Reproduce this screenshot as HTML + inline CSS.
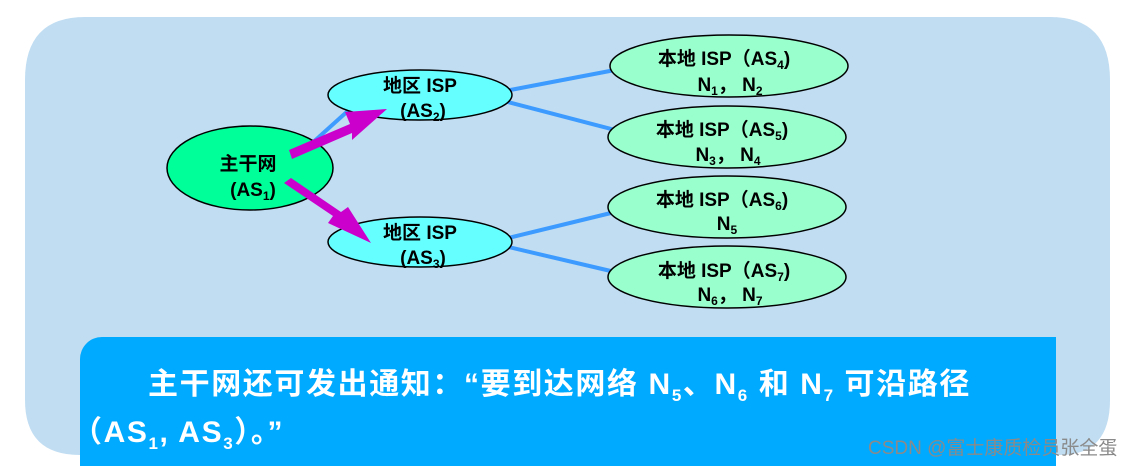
<!DOCTYPE html>
<html><head><meta charset="utf-8"><style>
body{margin:0;width:1136px;height:466px;background:#fff;overflow:hidden;position:relative;font-family:"Liberation Sans","Noto Sans CJK SC",sans-serif}
svg{position:absolute;left:0;top:0}
.t{font-family:"Liberation Sans","Noto Sans CJK SC",sans-serif;font-weight:bold;font-size:19px;fill:#000;text-anchor:middle}
.box{position:absolute;left:80px;top:337px;width:976px;height:129px;background:#00aaff;border-top-left-radius:22px;color:#fff;font-weight:bold;font-size:30px;letter-spacing:1.6px}
.box sub{font-size:17px}
.wm{position:absolute;left:868px;top:433px;font-size:19px;color:#8a8a8a;font-family:"Liberation Sans","Noto Sans CJK SC",sans-serif}
</style></head><body>
<svg width="1136" height="466">
<path d="M85 17 H1050 Q1110 17 1110 80 V400 Q1110 455 1060 455 H80 Q25 455 25 400 V80 Q25 17 85 17Z" fill="#c0ddf2"/>
<g stroke="#3d9bff" stroke-width="4">
<line x1="310" y1="145" x2="360" y2="100"/>
<line x1="500" y1="92" x2="615" y2="70"/>
<line x1="500" y1="100" x2="615" y2="130"/>
<line x1="500" y1="240" x2="615" y2="212"/>
<line x1="500" y1="245" x2="615" y2="272"/>
</g>
<ellipse cx="250" cy="168" rx="83" ry="42" fill="#00ff99" stroke="#000" stroke-width="1.5"/>
<ellipse cx="420" cy="95" rx="92" ry="25" fill="#66ffff" stroke="#000" stroke-width="1.5"/>
<ellipse cx="420" cy="242" rx="92" ry="25" fill="#66ffff" stroke="#000" stroke-width="1.5"/>
<ellipse cx="729" cy="66" rx="119" ry="31" fill="#99ffcc" stroke="#000" stroke-width="1.5"/>
<ellipse cx="727" cy="137" rx="119" ry="31" fill="#99ffcc" stroke="#000" stroke-width="1.5"/>
<ellipse cx="727" cy="207" rx="119" ry="31" fill="#99ffcc" stroke="#000" stroke-width="1.5"/>
<ellipse cx="727" cy="277" rx="119" ry="31" fill="#99ffcc" stroke="#000" stroke-width="1.5"/>
<g fill="#cc00cc">
<polygon points="289,150 350,124 345,112 387,109 352,140 352,133 292,159"/>
<polygon points="284,183 333,216 328,223 371,243 348,207 341,212 291,178"/>
</g>
<g class="t">
<text x="248" y="170" class="t">主干网</text>
<text x="253" y="196" class="t">(AS<tspan font-size="12" dy="4">1</tspan><tspan dy="-4">)</tspan></text>
<text x="420" y="92" class="t">地区 ISP</text>
<text x="423" y="117" class="t">(AS<tspan font-size="12" dy="4">2</tspan><tspan dy="-4">)</tspan></text>
<text x="420" y="239" class="t">地区 ISP</text>
<text x="423" y="264" class="t">(AS<tspan font-size="12" dy="4">3</tspan><tspan dy="-4">)</tspan></text>
<text x="724" y="65" class="t">本地 ISP（AS<tspan font-size="12" dy="4">4</tspan><tspan dy="-4">)</tspan></text>
<text x="730" y="91" class="t">N<tspan font-size="12" dy="4">1</tspan><tspan dy="-4">，  N</tspan><tspan font-size="12" dy="4">2</tspan></text>
<text x="722" y="136" class="t">本地 ISP（AS<tspan font-size="12" dy="4">5</tspan><tspan dy="-4">)</tspan></text>
<text x="728" y="161" class="t">N<tspan font-size="12" dy="4">3</tspan><tspan dy="-4">，  N</tspan><tspan font-size="12" dy="4">4</tspan></text>
<text x="722" y="206" class="t">本地 ISP（AS<tspan font-size="12" dy="4">6</tspan><tspan dy="-4">)</tspan></text>
<text x="727" y="230" class="t">N<tspan font-size="12" dy="4">5</tspan></text>
<text x="724" y="277" class="t">本地 ISP（AS<tspan font-size="12" dy="4">7</tspan><tspan dy="-4">)</tspan></text>
<text x="730" y="301" class="t">N<tspan font-size="12" dy="4">6</tspan><tspan dy="-4">，  N</tspan><tspan font-size="12" dy="4">7</tspan></text>
</g>
</svg>
<div class="box">
<div style="position:absolute;left:68px;top:22px;white-space:nowrap">主干网还可发出通知：“要到达网络 N<sub>5</sub>、N<sub>6</sub> 和 N<sub>7</sub> 可沿路径</div>
<div style="position:absolute;left:-8px;top:70px;white-space:nowrap">（AS<sub>1</sub>, AS<sub>3</sub>）。”</div>
</div>
<div class="wm">CSDN @富士康质检员张全蛋</div>
</body></html>
